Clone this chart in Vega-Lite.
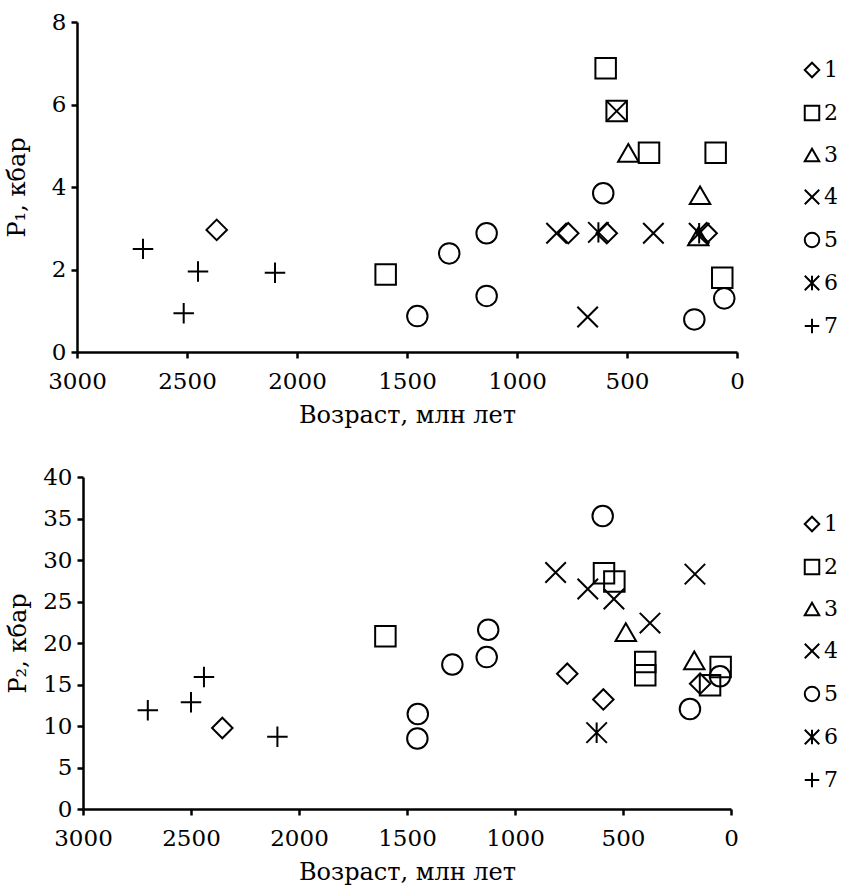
{
  "$schema": "https://vega.github.io/schema/vega-lite/v6.json",
  "background": "white",
  "padding": {"left": 5, "top": 11, "right": 0, "bottom": 3},
  "spacing": 39,
  "config": {
    "font": "DejaVu Serif",
    "view": {"stroke": null},
    "axis": {
      "domainColor": "black", "domainWidth": 2.5, "tickColor": "black", "tickWidth": 2.5, "tickSize": 6,
      "labelColor": "black", "labelFont": "DejaVu Serif", "labelFontSize": 23, "labelPadding": 5, "labelFlush": false,
      "titleFont": "DejaVu Serif", "titleFontSize": 24, "titleFontWeight": "normal", "titleColor": "black",
      "grid": false, "format": "d"
    },
    "axisX": {"labelPadding": 12, "titlePadding": 10},
    "legend": {
      "orient": "none", "title": null,
      "labelFont": "DejaVu Serif", "labelFontSize": 22, "labelColor": "black", "labelOffset": 1,
      "symbolSize": 210, "symbolStrokeColor": "black", "symbolStrokeWidth": 2, "symbolFillColor": "transparent",
      "rowPadding": 19
    }
  },
  "datasets": {
    "p1": [
      {"age": 2700, "P": 2.5, "type": "7"},
      {"age": 2450, "P": 1.95, "type": "7"},
      {"age": 2515, "P": 0.94, "type": "7"},
      {"age": 2100, "P": 1.92, "type": "7"},
      {"age": 2365, "P": 2.96, "type": "1"},
      {"age": 767, "P": 2.88, "type": "1"},
      {"age": 592, "P": 2.88, "type": "1"},
      {"age": 138, "P": 2.88, "type": "1"},
      {"age": 1597, "P": 1.88, "type": "2"},
      {"age": 597, "P": 6.88, "type": "2"},
      {"age": 547, "P": 5.84, "type": "2"},
      {"age": 400, "P": 4.83, "type": "2"},
      {"age": 97, "P": 4.83, "type": "2"},
      {"age": 67, "P": 1.8, "type": "2"},
      {"age": 494, "P": 4.83, "type": "3"},
      {"age": 168, "P": 3.8, "type": "3"},
      {"age": 176, "P": 2.8, "type": "3"},
      {"age": 547, "P": 5.84, "type": "4"},
      {"age": 820, "P": 2.88, "type": "4"},
      {"age": 380, "P": 2.88, "type": "4"},
      {"age": 679, "P": 0.85, "type": "4"},
      {"age": 1453, "P": 0.87, "type": "5"},
      {"age": 1308, "P": 2.39, "type": "5"},
      {"age": 1138, "P": 2.88, "type": "5"},
      {"age": 1138, "P": 1.36, "type": "5"},
      {"age": 608, "P": 3.85, "type": "5"},
      {"age": 58, "P": 1.3, "type": "5"},
      {"age": 194, "P": 0.79, "type": "5"},
      {"age": 630, "P": 2.9, "type": "6"},
      {"age": 172, "P": 2.88, "type": "6"}
    ],
    "p2": [
      {"age": 2700, "P": 11.9, "type": "7"},
      {"age": 2500, "P": 12.85, "type": "7"},
      {"age": 2440, "P": 15.9, "type": "7"},
      {"age": 2100, "P": 8.7, "type": "7"},
      {"age": 2355, "P": 9.76, "type": "1"},
      {"age": 758, "P": 16.3, "type": "1"},
      {"age": 591, "P": 13.2, "type": "1"},
      {"age": 143, "P": 15.1, "type": "1"},
      {"age": 1600, "P": 20.8, "type": "2"},
      {"age": 588, "P": 28.4, "type": "2"},
      {"age": 540, "P": 27.4, "type": "2"},
      {"age": 397, "P": 17.7, "type": "2"},
      {"age": 397, "P": 16.1, "type": "2"},
      {"age": 48, "P": 17.1, "type": "2"},
      {"age": 97, "P": 14.9, "type": "2"},
      {"age": 487, "P": 21.3, "type": "3"},
      {"age": 170, "P": 17.9, "type": "3"},
      {"age": 812, "P": 28.5, "type": "4"},
      {"age": 663, "P": 26.5, "type": "4"},
      {"age": 542, "P": 25.3, "type": "4"},
      {"age": 375, "P": 22.4, "type": "4"},
      {"age": 167, "P": 28.3, "type": "4"},
      {"age": 1450, "P": 11.45, "type": "5"},
      {"age": 1452, "P": 8.5, "type": "5"},
      {"age": 1290, "P": 17.4, "type": "5"},
      {"age": 1124, "P": 21.6, "type": "5"},
      {"age": 1131, "P": 18.3, "type": "5"},
      {"age": 594, "P": 35.3, "type": "5"},
      {"age": 51, "P": 16.0, "type": "5"},
      {"age": 190, "P": 12.05, "type": "5"},
      {"age": 622, "P": 9.2, "type": "6"}
    ]
  },
  "resolve": {"legend": {"shape": "independent"}},
  "vconcat": [
    {
      "width": 660, "height": 330,
      "data": {"name": "p1"},
      "mark": {"type": "point", "filled": false, "color": "black", "strokeWidth": 2, "size": 420, "opacity": 1},
      "encoding": {
        "x": {"field": "age", "type": "quantitative",
          "scale": {"domain": [0, 3000], "reverse": true, "nice": false},
          "axis": {"values": [3000, 2500, 2000, 1500, 1000, 500, 0], "title": "Возраст, млн лет"}},
        "y": {"field": "P", "type": "quantitative",
          "scale": {"domain": [0, 8], "nice": false},
          "axis": {"values": [0, 2, 4, 6, 8], "title": "P₁, кбар", "titlePadding": 22}},
        "shape": {"field": "type", "type": "nominal",
          "scale": {"domain": ["1", "2", "3", "4", "5", "6", "7"],
            "range": ["diamond", "square", "triangle-up", "M-1,-1L1,1M-1,1L1,-1", "circle", "M-1,-1L1,1M-1,1L1,-1M0,-1L0,1", "M-1,0L1,0M0,-1L0,1"]},
          "legend": {"legendX": 724, "legendY": 37}}
      }
    },
    {
      "width": 654, "height": 332,
      "data": {"name": "p2"},
      "mark": {"type": "point", "filled": false, "color": "black", "strokeWidth": 2, "size": 420, "opacity": 1},
      "encoding": {
        "x": {"field": "age", "type": "quantitative",
          "scale": {"domain": [0, 3000], "reverse": true, "nice": false, "range": [6, 654]},
          "axis": {"values": [3000, 2500, 2000, 1500, 1000, 500, 0], "title": "Возраст, млн лет"}},
        "y": {"field": "P", "type": "quantitative",
          "scale": {"domain": [0, 40], "nice": false},
          "axis": {"values": [0, 5, 10, 15, 20, 25, 30, 35, 40], "title": "P₂, кбар", "titlePadding": 12, "offset": -6}},
        "shape": {"field": "type", "type": "nominal",
          "scale": {"domain": ["1", "2", "3", "4", "5", "6", "7"],
            "range": ["diamond", "square", "triangle-up", "M-1,-1L1,1M-1,1L1,-1", "circle", "M-1,-1L1,1M-1,1L1,-1M0,-1L0,1", "M-1,0L1,0M0,-1L0,1"]},
          "legend": {"legendX": 724, "legendY": 36}}
      }
    }
  ]
}
